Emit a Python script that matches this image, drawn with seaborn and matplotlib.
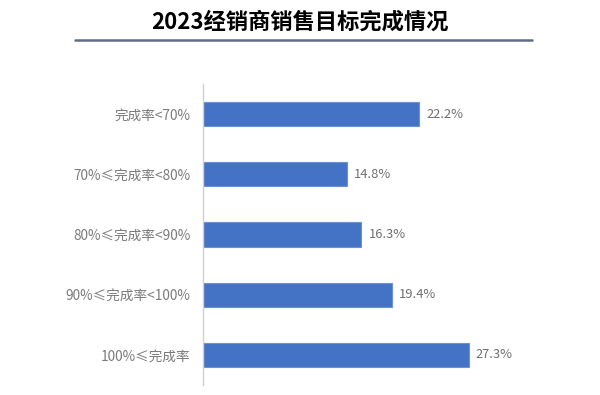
import matplotlib
matplotlib.use("Agg")
import matplotlib.pyplot as plt
import seaborn as sns
import pandas as pd

# данные
categories = ["完成率<70%", "70%≤完成率<80%", "80%≤完成率<90%", "90%≤完成率<100%", "100%≤完成率"]
values = [22.2, 14.8, 16.3, 19.4, 27.3]
value_labels = ["22.2%", "14.8%", "16.3%", "19.4%", "27.3%"]

df = pd.DataFrame({"cat": categories, "val": values})

sns.set_style("white")
plt.rcParams["font.family"] = ["Noto Sans CJK SC", "DejaVu Sans"]

fig = plt.figure(figsize=(6, 3.95), dpi=100)
ax = fig.add_axes([0.338, 0.0253, 0.4867, 0.762])

sns.barplot(data=df, x="val", y="cat", orient="h", color="#4472C4",
            width=0.4, edgecolor="#6a93d6", linewidth=0.8, saturation=1, ax=ax)

for i, (v, lab) in enumerate(zip(values, value_labels)):
    ax.text(v + 0.75, i, lab, va="center", ha="left", fontsize=9.3, color="#6e6e6e")

ax.set_xlim(0, 30)
ax.set_ylim(4.5, -0.5)
ax.set_xlabel("")
ax.set_ylabel("")
ax.set_xticks([])
for s in ["top", "right", "bottom"]:
    ax.spines[s].set_visible(False)
ax.spines["left"].set_color("#d0d0d0")
ax.spines["left"].set_linewidth(1)
ax.tick_params(axis="y", length=0, pad=9, labelsize=9.8, labelcolor="#7a7a7a")

# заголовок и линия под ним
fig.text(0.5, 1 - 22 / 395, "2023经销商销售目标完成情况", ha="center", va="center",
         fontsize=16, fontweight="bold", color="black")
fig.add_artist(plt.Line2D([75 / 600, 532 / 600], [1 - 39.5 / 395, 1 - 39.5 / 395],
                          color="#5f6e86", linewidth=1.8, transform=fig.transFigure))

fig.savefig("out.png", dpi=100)
